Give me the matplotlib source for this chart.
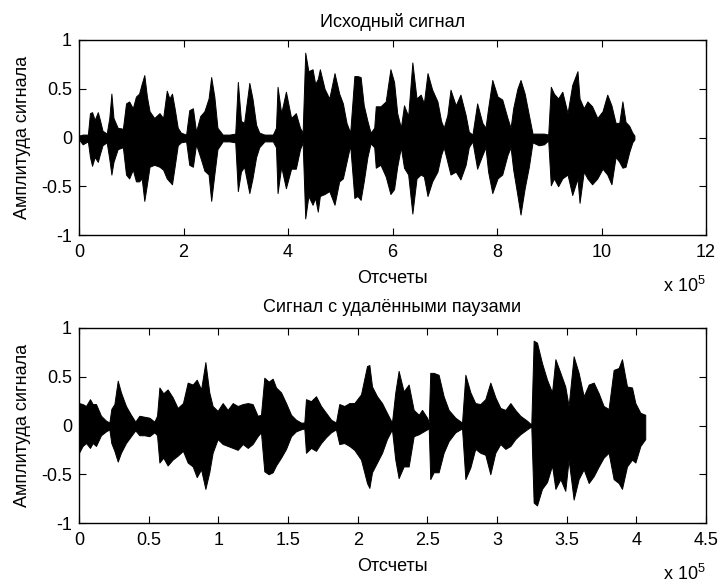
import matplotlib
matplotlib.use("Agg")
import matplotlib.pyplot as plt
from matplotlib.ticker import FuncFormatter, MultipleLocator
import numpy as np

plt.rcParams['font.family'] = ['Liberation Sans', 'DejaVu Sans']
plt.rcParams['mathtext.fontset'] = 'custom'
plt.rcParams['mathtext.rm'] = 'Liberation Sans'
plt.rcParams['mathtext.it'] = 'Liberation Sans'

# ---------------- data (positions in units of 1e5 samples) ----------------
orig_pos = [0.0, 0.07, 0.17, 0.21, 0.25, 0.30, 0.36, 0.40, 0.45, 0.53, 0.58, 0.62, 0.66, 0.74, 0.84,
            0.90, 0.96, 1.03, 1.09, 1.15, 1.20, 1.25, 1.30, 1.35, 1.44, 1.54, 1.61, 1.68, 1.73, 1.78,
            1.83, 1.89, 1.95, 2.05, 2.11, 2.18, 2.24, 2.32, 2.40, 2.48, 2.53, 2.59, 2.65, 2.75, 2.88,
            2.99, 3.04, 3.10, 3.16, 3.26, 3.32, 3.39, 3.45, 3.55, 3.71, 3.77, 3.80, 3.87, 3.96, 4.06,
            4.15, 4.23, 4.28, 4.33, 4.39, 4.47, 4.52, 4.57, 4.61, 4.70, 4.79, 4.89, 4.98, 5.05, 5.12,
            5.19, 5.27, 5.33, 5.39, 5.45, 5.52, 5.58, 5.65, 5.68, 5.77, 5.87, 5.96, 6.03, 6.09, 6.16,
            6.22, 6.30, 6.38, 6.46, 6.54, 6.60, 6.67, 6.76, 6.86, 6.93, 6.98, 7.05, 7.11, 7.21, 7.30,
            7.40, 7.46, 7.53, 7.62, 7.72, 7.78, 7.83, 7.91, 8.01, 8.10, 8.20, 8.26, 8.31, 8.39, 8.45,
            8.53, 8.61, 8.68, 8.80, 8.90, 8.98, 9.03, 9.09, 9.17, 9.25, 9.35, 9.44, 9.54, 9.58, 9.66,
            9.73, 9.82, 9.92, 10.02, 10.11, 10.19, 10.27, 10.34, 10.40, 10.46, 10.53, 10.59, 10.63]
orig_hi = [0.02, 0.03, 0.03, 0.25, 0.26, 0.18, 0.26, 0.18, 0.07, 0.04, 0.20, 0.45, 0.20, 0.10, 0.09,
           0.35, 0.37, 0.30, 0.42, 0.45, 0.55, 0.64, 0.42, 0.27, 0.20, 0.25, 0.20, 0.48, 0.40, 0.45,
           0.30, 0.10, 0.05, 0.03, 0.28, 0.30, 0.06, 0.22, 0.27, 0.40, 0.62, 0.42, 0.10, 0.03, 0.03,
           0.04, 0.57, 0.17, 0.15, 0.56, 0.40, 0.13, 0.05, 0.03, 0.03, 0.10, 0.52, 0.25, 0.47, 0.20,
           0.25, 0.10, 0.05, 0.87, 0.68, 0.70, 0.55, 0.60, 0.70, 0.50, 0.40, 0.66, 0.45, 0.35, 0.15,
           0.05, 0.63, 0.63, 0.62, 0.33, 0.17, 0.05, 0.10, 0.32, 0.32, 0.37, 0.70, 0.57, 0.25, 0.10,
           0.33, 0.22, 0.77, 0.40, 0.44, 0.35, 0.66, 0.49, 0.37, 0.17, 0.10, 0.23, 0.49, 0.33, 0.44,
           0.23, 0.06, 0.03, 0.35, 0.15, 0.10, 0.30, 0.59, 0.42, 0.39, 0.20, 0.10, 0.30, 0.50, 0.59,
           0.45, 0.23, 0.04, 0.04, 0.04, 0.03, 0.52, 0.45, 0.40, 0.47, 0.25, 0.54, 0.68, 0.40, 0.30,
           0.37, 0.32, 0.20, 0.27, 0.44, 0.33, 0.15, 0.15, 0.37, 0.16, 0.12, 0.05, 0.02]
orig_lo = [-0.02, -0.07, -0.04, -0.20, -0.29, -0.20, -0.25, -0.17, -0.08, -0.05, -0.22, -0.38, -0.25, -0.12, -0.10,
           -0.38, -0.42, -0.33, -0.45, -0.45, -0.42, -0.65, -0.48, -0.30, -0.28, -0.30, -0.33, -0.42, -0.45, -0.48,
           -0.30, -0.08, -0.05, -0.04, -0.28, -0.30, -0.07, -0.20, -0.34, -0.38, -0.65, -0.38, -0.12, -0.04, -0.04,
           -0.05, -0.55, -0.35, -0.30, -0.57, -0.42, -0.20, -0.10, -0.04, -0.04, -0.10, -0.57, -0.30, -0.52, -0.32,
           -0.32, -0.12, -0.05, -0.83, -0.60, -0.69, -0.62, -0.76, -0.60, -0.58, -0.55, -0.69, -0.45, -0.42, -0.25,
           -0.08, -0.62, -0.60, -0.64, -0.45, -0.20, -0.06, -0.10, -0.31, -0.28, -0.40, -0.58, -0.53, -0.30, -0.10,
           -0.31, -0.38, -0.78, -0.42, -0.38, -0.40, -0.60, -0.45, -0.35, -0.18, -0.10, -0.25, -0.38, -0.35, -0.43,
           -0.28, -0.10, -0.04, -0.32, -0.18, -0.10, -0.35, -0.57, -0.42, -0.38, -0.18, -0.10, -0.33, -0.59, -0.79,
           -0.52, -0.30, -0.05, -0.08, -0.07, -0.03, -0.49, -0.42, -0.50, -0.42, -0.38, -0.59, -0.42, -0.67, -0.35,
           -0.42, -0.48, -0.42, -0.32, -0.38, -0.48, -0.20, -0.25, -0.31, -0.30, -0.15, -0.05, -0.02]

trim_pos = [0.0, 0.026, 0.05, 0.079, 0.098, 0.122, 0.158, 0.194, 0.218, 0.232, 0.254, 0.278, 0.301, 0.337,
            0.373, 0.404, 0.433, 0.469, 0.505, 0.541, 0.56, 0.577, 0.605, 0.636, 0.672, 0.708, 0.746, 0.78,
            0.816, 0.845, 0.876, 0.907, 0.935, 0.959, 0.995, 1.031, 1.067, 1.103, 1.139, 1.175, 1.211, 1.246,
            1.282, 1.306, 1.33, 1.361, 1.39, 1.414, 1.45, 1.486, 1.522, 1.557, 1.593, 1.617, 1.629, 1.665,
            1.701, 1.737, 1.773, 1.809, 1.844, 1.868, 1.904, 1.94, 1.976, 2.024, 2.067, 2.084, 2.103, 2.139,
            2.175, 2.21, 2.246, 2.27, 2.294, 2.33, 2.366, 2.402, 2.438, 2.462, 2.498, 2.51, 2.521, 2.545,
            2.581, 2.617, 2.653, 2.701, 2.749, 2.773, 2.809, 2.844, 2.88, 2.916, 2.952, 2.988, 3.024, 3.06,
            3.096, 3.131, 3.167, 3.215, 3.246, 3.263, 3.287, 3.323, 3.359, 3.395, 3.419, 3.455, 3.49, 3.514,
            3.55, 3.586, 3.622, 3.658, 3.694, 3.73, 3.765, 3.801, 3.837, 3.873, 3.897, 3.933, 3.969, 3.993,
            4.029, 4.064]
trim_hi = [0.23, 0.22, 0.20, 0.27, 0.22, 0.22, 0.10, 0.05, 0.03, 0.17, 0.22, 0.46, 0.34, 0.20,
           0.11, 0.04, 0.10, 0.09, 0.08, 0.04, 0.10, 0.39, 0.33, 0.37, 0.29, 0.18, 0.23, 0.44,
           0.42, 0.47, 0.37, 0.65, 0.34, 0.20, 0.15, 0.23, 0.16, 0.23, 0.20, 0.22, 0.23, 0.22,
           0.10, 0.11, 0.49, 0.45, 0.48, 0.39, 0.34, 0.23, 0.11, 0.06, 0.03, 0.03, 0.27, 0.25,
           0.30, 0.20, 0.13, 0.06, 0.03, 0.22, 0.20, 0.23, 0.23, 0.32, 0.61, 0.62, 0.40, 0.30,
           0.23, 0.13, 0.03, 0.34, 0.56, 0.35, 0.42, 0.16, 0.11, 0.16, 0.08, 0.03, 0.54, 0.54,
           0.52, 0.30, 0.16, 0.08, 0.03, 0.52, 0.34, 0.23, 0.22, 0.27, 0.44, 0.29, 0.18, 0.16,
           0.23, 0.16, 0.10, 0.05, 0.01, 0.87, 0.85, 0.64, 0.47, 0.34, 0.68, 0.54, 0.40, 0.20,
           0.71, 0.54, 0.30, 0.42, 0.44, 0.33, 0.20, 0.17, 0.57, 0.59, 0.68, 0.40, 0.39, 0.23,
           0.13, 0.11]
trim_lo = [-0.28, -0.21, -0.18, -0.23, -0.18, -0.21, -0.10, -0.06, -0.04, -0.18, -0.26, -0.37, -0.28, -0.18,
           -0.11, -0.05, -0.10, -0.10, -0.11, -0.07, -0.10, -0.38, -0.33, -0.41, -0.35, -0.31, -0.26, -0.38,
           -0.42, -0.53, -0.45, -0.65, -0.48, -0.28, -0.14, -0.19, -0.21, -0.23, -0.25, -0.19, -0.23, -0.19,
           -0.11, -0.07, -0.47, -0.50, -0.48, -0.41, -0.33, -0.24, -0.11, -0.06, -0.04, -0.03, -0.28, -0.23,
           -0.26, -0.18, -0.12, -0.07, -0.04, -0.19, -0.18, -0.21, -0.25, -0.35, -0.59, -0.64, -0.48, -0.38,
           -0.28, -0.14, -0.04, -0.35, -0.54, -0.42, -0.42, -0.11, -0.09, -0.07, -0.04, -0.03, -0.55, -0.48,
           -0.48, -0.28, -0.16, -0.07, -0.03, -0.55, -0.43, -0.24, -0.28, -0.30, -0.50, -0.28, -0.19, -0.24,
           -0.21, -0.14, -0.09, -0.04, -0.01, -0.79, -0.82, -0.65, -0.58, -0.41, -0.65, -0.55, -0.67, -0.35,
           -0.76, -0.55, -0.45, -0.59, -0.52, -0.42, -0.33, -0.28, -0.55, -0.59, -0.65, -0.42, -0.35, -0.38,
           -0.21, -0.14]

titles = ["Исходный сигнал", "Сигнал с удалёнными паузами"]
xlabel_text = "Отсчеты"
ylabel_text = "Амплитуда сигнала"
xlims = [12, 4.5]
xsteps = [2, 0.5]
yticks = [-1, -0.5, 0, 0.5, 1]
ytick_labels = ["-1", "-0.5", "0", "0.5", "1"]
SCALE = 1e5

# ---------------- figure ----------------
FS = 13
fig = plt.figure(figsize=(7.19, 5.83), dpi=100)
W, H = 719, 583
boxes = [(79, 40, 706, 235), (79, 328, 706, 523)]
title_pads = [9.5, 11.5]

series = [(orig_pos, orig_hi, orig_lo), (trim_pos, trim_hi, trim_lo)]

def fmt(v, p):
    s = v / SCALE
    if abs(s - round(s)) < 1e-9:
        return "%d" % round(s)
    return ("%g" % s)

for i, (box, (pos, hi, lo)) in enumerate(zip(boxes, series)):
    l, t, r, b = box
    ax = fig.add_axes([l / W, 1 - b / H, (r - l) / W, (b - t) / H])
    x = np.array(pos) * SCALE
    ax.fill_between(x, lo, hi, color='black', linewidth=0.7, edgecolor='black')
    ax.set_xlim(0, xlims[i] * SCALE)
    ax.set_ylim(-1, 1)
    ax.xaxis.set_major_locator(MultipleLocator(xsteps[i] * SCALE))
    ax.xaxis.set_major_formatter(FuncFormatter(fmt))
    ax.set_yticks(yticks)
    ax.set_yticklabels(ytick_labels)
    ax.tick_params(direction='in', top=True, right=True, length=5, width=0.8,
                   labelsize=FS, color='black')
    ax.tick_params(axis='x', pad=6.5)
    ax.tick_params(axis='y', pad=5)
    for sp in ax.spines.values():
        sp.set_linewidth(1.0)
        sp.set_color('black')
    ax.set_title(titles[i], fontsize=FS, pad=title_pads[i])
    ax.set_xlabel(xlabel_text, fontsize=FS, labelpad=6.5)
    ax.set_ylabel(ylabel_text, fontsize=FS, labelpad=7)
    ax.text(1.0, -0.29, r"x 10$^{5}$", transform=ax.transAxes, ha='right', va='baseline',
            fontsize=FS)

fig.savefig("out.png", dpi=100)
